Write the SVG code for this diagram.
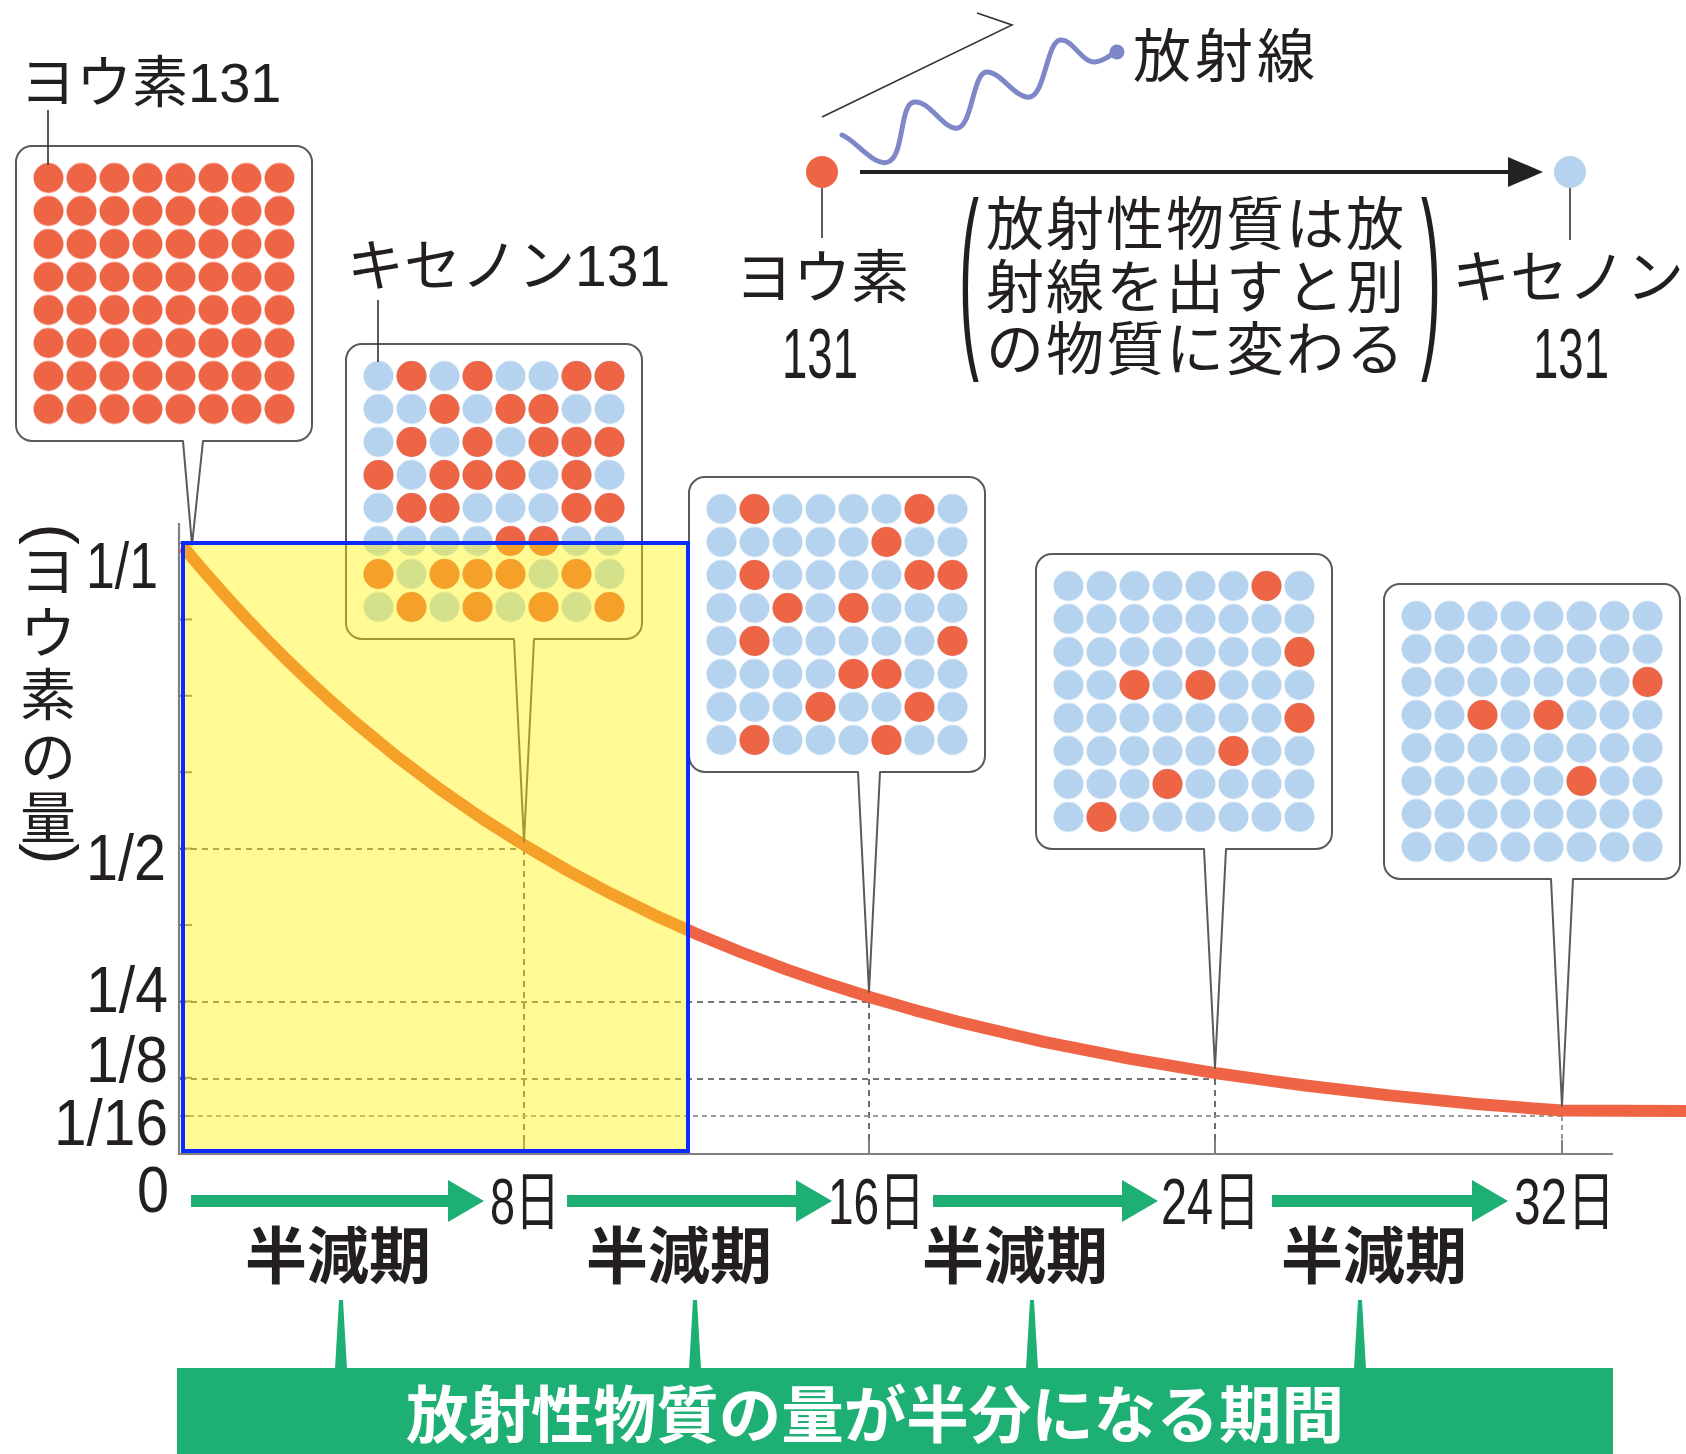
<svg xmlns="http://www.w3.org/2000/svg" width="1686" height="1454" viewBox="0 0 1686 1454">
<style>
.t{font-family:"Liberation Sans","Noto Sans CJK JP",sans-serif;fill:#231f20}
.j{font-family:"Noto Sans CJK JP",sans-serif;fill:#231f20}
.jb{font-family:"Noto Sans CJK JP",sans-serif;font-weight:700;fill:#231f20}
.box{fill:#fff;stroke:#5a5a5a;stroke-width:2;stroke-linejoin:round}
.r{fill:#EE6546}
.lead{stroke:#333;stroke-width:1.6;fill:none}
.grid{stroke:#4a4a4a;stroke-width:1.6;stroke-dasharray:6 5;fill:none}
.grid2{stroke:#9a9a9a;stroke-width:2;stroke-dasharray:5 4;fill:none}
.axis{stroke:#808080;stroke-width:2.2;fill:none}
.g{fill:#1DAF73}
.gl{stroke:#1DAF73;stroke-width:12;fill:none}
</style>
<defs>
<pattern id="pb" width="33" height="33" patternUnits="userSpaceOnUse"><circle cx="16.5" cy="16.5" r="15" fill="#B5D3EE"/></pattern>
<pattern id="pr" width="33" height="33" patternUnits="userSpaceOnUse"><circle cx="16.5" cy="16.5" r="15" fill="#EE6546"/></pattern>
</defs>
<rect width="1686" height="1454" fill="#fff"/>

<!-- axes and grid -->
<g id="axes">
<line class="axis" x1="179" y1="523" x2="179" y2="1155"/>
<line class="axis" x1="178" y1="1154" x2="1613" y2="1154"/>
<g stroke="#808080" stroke-width="2">
<line x1="179" y1="543" x2="192" y2="543"/>
<line x1="179" y1="619.4" x2="192" y2="619.4"/>
<line x1="179" y1="695.8" x2="192" y2="695.8"/>
<line x1="179" y1="772.2" x2="192" y2="772.2"/>
<line x1="179" y1="848.6" x2="192" y2="848.6"/>
<line x1="179" y1="925" x2="192" y2="925"/>
<line x1="179" y1="1001.4" x2="192" y2="1001.4"/>
<line x1="179" y1="1077.8" x2="192" y2="1077.8"/>
<line x1="179" y1="1116" x2="192" y2="1116"/>
<line x1="524" y1="1140" x2="524" y2="1154"/>
<line x1="869" y1="1140" x2="869" y2="1154"/>
<line x1="1215" y1="1140" x2="1215" y2="1154"/>
<line x1="1562" y1="1140" x2="1562" y2="1154"/>
</g>
<path class="grid" d="M180,849 H524 M524,849 V1140 M180,1002 H869 M869,1002 V1140 M180,1079 H1215 M1215,1079 V1140"/>
<path class="grid2" d="M180,1116 H1562 M1562,1116 V1140"/>
</g>

<!-- decay curve -->
<path id="curve" fill="none" stroke="#EE6445" stroke-width="12" stroke-linejoin="round" d="M183,546.7 L201.6,568.7 L223.2,593.3 L244.8,616.9 L266.4,639.4 L288,661 L309.6,681.7 L331.2,701.5 L352.8,720.5 L396,756.1 L439.2,788.7 L482.4,818.6 L525.6,846 L568.8,871.2 L612,894.2 L655.2,915.4 L698.4,934.7 L741.6,952.5 L784.8,968.8 L828,983.8 L871.2,997.5 L914.4,1010.1 L957.6,1021.6 L1044,1041.9 L1130.4,1058.9 L1216.8,1073.3 L1303.2,1085.3 L1389.6,1095.4 L1476,1104 L1562.4,1110.6 L1686,1111"/>

<!-- callouts -->
<g id="box1">
<path class="box" d="M32,146 H296 A16,16 0 0 1 312,162 V425 A16,16 0 0 1 296,441 H203 L192,545 L183,441 H32 A16,16 0 0 1 16,425 V162 A16,16 0 0 1 32,146 Z"/>
<g transform="translate(32,161.5)"><rect width="264" height="264" fill="url(#pr)"/></g>
</g>
<g id="box2">
<path class="box" d="M362,344 H626 A16,16 0 0 1 642,360 V623 A16,16 0 0 1 626,639 H534 L524,842 L514,639 H362 A16,16 0 0 1 346,623 V360 A16,16 0 0 1 362,344 Z"/>
<g transform="translate(362,359.5)"><rect width="264" height="264" fill="url(#pb)"/>
<circle class="r" r="15" cx="49.5" cy="16.5"/><circle class="r" r="15" cx="115.5" cy="16.5"/><circle class="r" r="15" cx="214.5" cy="16.5"/><circle class="r" r="15" cx="247.5" cy="16.5"/>
<circle class="r" r="15" cx="82.5" cy="49.5"/><circle class="r" r="15" cx="148.5" cy="49.5"/><circle class="r" r="15" cx="181.5" cy="49.5"/>
<circle class="r" r="15" cx="49.5" cy="82.5"/><circle class="r" r="15" cx="115.5" cy="82.5"/><circle class="r" r="15" cx="181.5" cy="82.5"/><circle class="r" r="15" cx="214.5" cy="82.5"/><circle class="r" r="15" cx="247.5" cy="82.5"/>
<circle class="r" r="15" cx="16.5" cy="115.5"/><circle class="r" r="15" cx="82.5" cy="115.5"/><circle class="r" r="15" cx="115.5" cy="115.5"/><circle class="r" r="15" cx="148.5" cy="115.5"/><circle class="r" r="15" cx="214.5" cy="115.5"/>
<circle class="r" r="15" cx="49.5" cy="148.5"/><circle class="r" r="15" cx="82.5" cy="148.5"/><circle class="r" r="15" cx="214.5" cy="148.5"/><circle class="r" r="15" cx="247.5" cy="148.5"/>
<circle class="r" r="15" cx="148.5" cy="181.5"/><circle class="r" r="15" cx="181.5" cy="181.5"/>
<circle class="r" r="15" cx="16.5" cy="214.5"/><circle class="r" r="15" cx="82.5" cy="214.5"/><circle class="r" r="15" cx="115.5" cy="214.5"/><circle class="r" r="15" cx="148.5" cy="214.5"/><circle class="r" r="15" cx="214.5" cy="214.5"/>
<circle class="r" r="15" cx="49.5" cy="247.5"/><circle class="r" r="15" cx="115.5" cy="247.5"/><circle class="r" r="15" cx="181.5" cy="247.5"/><circle class="r" r="15" cx="247.5" cy="247.5"/>
</g>
</g>
<g id="box3">
<path class="box" d="M705,477 H969 A16,16 0 0 1 985,493 V756 A16,16 0 0 1 969,772 H880 L869,992 L858,772 H705 A16,16 0 0 1 689,756 V493 A16,16 0 0 1 705,477 Z"/>
<g transform="translate(705,492.5)"><rect width="264" height="264" fill="url(#pb)"/>
<circle class="r" r="15" cx="49.5" cy="16.5"/><circle class="r" r="15" cx="214.5" cy="16.5"/>
<circle class="r" r="15" cx="181.5" cy="49.5"/>
<circle class="r" r="15" cx="49.5" cy="82.5"/><circle class="r" r="15" cx="214.5" cy="82.5"/><circle class="r" r="15" cx="247.5" cy="82.5"/>
<circle class="r" r="15" cx="82.5" cy="115.5"/><circle class="r" r="15" cx="148.5" cy="115.5"/>
<circle class="r" r="15" cx="49.5" cy="148.5"/><circle class="r" r="15" cx="247.5" cy="148.5"/>
<circle class="r" r="15" cx="148.5" cy="181.5"/><circle class="r" r="15" cx="181.5" cy="181.5"/>
<circle class="r" r="15" cx="115.5" cy="214.5"/><circle class="r" r="15" cx="214.5" cy="214.5"/>
<circle class="r" r="15" cx="49.5" cy="247.5"/><circle class="r" r="15" cx="181.5" cy="247.5"/>
</g>
</g>
<g id="box4">
<path class="box" d="M1052,554 H1316 A16,16 0 0 1 1332,570 V833 A16,16 0 0 1 1316,849 H1226 L1215,1068 L1204,849 H1052 A16,16 0 0 1 1036,833 V570 A16,16 0 0 1 1052,554 Z"/>
<g transform="translate(1052,569.5)"><rect width="264" height="264" fill="url(#pb)"/>
<circle class="r" r="15" cx="214.5" cy="16.5"/>
<circle class="r" r="15" cx="247.5" cy="82.5"/>
<circle class="r" r="15" cx="82.5" cy="115.5"/><circle class="r" r="15" cx="148.5" cy="115.5"/>
<circle class="r" r="15" cx="247.5" cy="148.5"/>
<circle class="r" r="15" cx="181.5" cy="181.5"/>
<circle class="r" r="15" cx="115.5" cy="214.5"/>
<circle class="r" r="15" cx="49.5" cy="247.5"/>
</g>
</g>
<g id="box5">
<path class="box" d="M1400,584 H1664 A16,16 0 0 1 1680,600 V863 A16,16 0 0 1 1664,879 H1573 L1562,1106 L1551,879 H1400 A16,16 0 0 1 1384,863 V600 A16,16 0 0 1 1400,584 Z"/>
<g transform="translate(1400,599.5)"><rect width="264" height="264" fill="url(#pb)"/>
<circle class="r" r="15" cx="247.5" cy="82.5"/>
<circle class="r" r="15" cx="82.5" cy="115.5"/><circle class="r" r="15" cx="148.5" cy="115.5"/>
<circle class="r" r="15" cx="181.5" cy="181.5"/>
</g>
</g>

<!-- highlight overlay -->
<g id="highlight">
<rect x="183" y="543" width="505" height="608" fill="#FFF200" fill-opacity="0.42"/>
<rect x="183" y="543" width="505" height="608" fill="none" stroke="#0A2AFF" stroke-width="4"/>
</g>

<!-- labels -->
<g id="label-iodine131"><text class="t" x="20" y="102" font-size="56">ヨウ素131</text></g>
<g id="label-xenon131"><text class="t" x="347" y="286" font-size="57">キセノン131</text></g>

<!-- decay explanation -->
<g id="iodine-atom"><circle cx="822" cy="172" r="16" fill="#EE6546"/>
<text class="j" x="822" y="298" font-size="58" text-anchor="middle">ヨウ素</text>
<text class="t" x="782" y="378" font-size="70" textLength="76" lengthAdjust="spacingAndGlyphs">131</text></g>
<g id="xenon-atom"><circle cx="1570" cy="172" r="16" fill="#B5D3EE"/>
<text class="j" x="1452" y="298" font-size="58">キセノン</text>
<text class="t" x="1533" y="378" font-size="70" textLength="76" lengthAdjust="spacingAndGlyphs">131</text></g>
<g id="radiation">
<path d="M842,135 C856,140 876,170 890,161 C904,152 900,104 914,102 C930,100 944,131 958,128 C972,125 973,74 986,72 C1000,70 1016,100 1030,97 C1045,94 1047,42 1060,40 C1072,38 1082,63 1095,62 C1104,61 1110,55 1116,52" fill="none" stroke="#7E87C7" stroke-width="5" stroke-linecap="round"/>
<circle cx="1117" cy="52" r="7.5" fill="#7E87C7"/>
<path d="M822,117 L1012,25 L977,13" fill="none" stroke="#333" stroke-width="1.6"/>
<text class="j" x="1133" y="77" font-size="58" letter-spacing="4">放射線</text>
</g>
<g id="explanation">
<text class="t" transform="translate(959,341) scale(1,3.3)" font-size="60" fill="#333">(</text>
<text class="t" transform="translate(1421,341) scale(1,3.3)" font-size="60" fill="#333">)</text>
<text class="j" font-size="58" letter-spacing="2"><tspan x="986" y="245">放射性物質は放</tspan><tspan x="986" y="308">射線を出すと別</tspan><tspan x="986" y="370">の物質に変わる</tspan></text>
</g>

<!-- y axis -->
<g id="y-title">
<text class="t" transform="translate(31.6,523.5) rotate(90)" font-size="64">(</text>
<text class="j" font-size="56" text-anchor="middle"><tspan x="48" y="591">ヨ</tspan><tspan x="48" y="653">ウ</tspan><tspan x="48" y="715">素</tspan><tspan x="48" y="777">の</tspan><tspan x="48" y="838">量</tspan></text>
<text class="t" transform="translate(31.6,843) rotate(90)" font-size="64">)</text>
</g>
<g id="y-labels">
<text class="t" x="86" y="588" font-size="64" textLength="72" lengthAdjust="spacingAndGlyphs">1/1</text>
<text class="t" x="86" y="880" font-size="64" textLength="80" lengthAdjust="spacingAndGlyphs">1/2</text>
<text class="t" x="86" y="1012" font-size="64" textLength="82" lengthAdjust="spacingAndGlyphs">1/4</text>
<text class="t" x="86" y="1082" font-size="64" textLength="82" lengthAdjust="spacingAndGlyphs">1/8</text>
<text class="t" x="54" y="1145" font-size="64" textLength="114" lengthAdjust="spacingAndGlyphs">1/16</text>
<text class="t" x="137" y="1212" font-size="64" textLength="32" lengthAdjust="spacingAndGlyphs">0</text>
</g>
<g id="x-labels">
<text class="t" x="490" y="1224" font-size="64" textLength="70" lengthAdjust="spacingAndGlyphs">8日</text>
<text class="t" x="828" y="1224" font-size="64" textLength="97" lengthAdjust="spacingAndGlyphs">16日</text>
<text class="t" x="1161" y="1224" font-size="64" textLength="99" lengthAdjust="spacingAndGlyphs">24日</text>
<text class="t" x="1514" y="1224" font-size="64" textLength="101" lengthAdjust="spacingAndGlyphs">32日</text>
</g>
<g id="half-life-labels">
<text class="jb" x="338" y="1279" font-size="62" text-anchor="middle">半減期</text>
<text class="jb" x="679" y="1279" font-size="62" text-anchor="middle">半減期</text>
<text class="jb" x="1015" y="1279" font-size="62" text-anchor="middle">半減期</text>
<text class="jb" x="1374" y="1279" font-size="62" text-anchor="middle">半減期</text>
</g>
<g id="definition-bar">
<rect class="g" x="177" y="1368" width="1436" height="86"/>
<text x="875" y="1438" font-size="62" text-anchor="middle" textLength="938" lengthAdjust="spacingAndGlyphs" style="font-family:'Noto Sans CJK JP',sans-serif;font-weight:700;fill:#fff">放射性物質の量が半分になる期間</text>
</g>

<g id="connectors">
<line class="lead" x1="48" y1="110" x2="48" y2="165"/>
<line class="lead" x1="378" y1="300" x2="378" y2="362"/>
<line class="lead" x1="822" y1="188" x2="822" y2="238"/>
<line class="lead" x1="1570" y1="188" x2="1570" y2="240"/>
<line x1="860" y1="172" x2="1515" y2="172" stroke="#222" stroke-width="4"/>
<polygon points="1508,157 1543,172 1508,187" fill="#222"/>
<line class="gl" x1="191" y1="1201" x2="452" y2="1201"/>
<polygon class="g" points="448,1180 484,1201 448,1222"/>
<line class="gl" x1="567" y1="1201" x2="800" y2="1201"/>
<polygon class="g" points="796,1180 832,1201 796,1222"/>
<line class="gl" x1="933" y1="1201" x2="1126" y2="1201"/>
<polygon class="g" points="1122,1180 1158,1201 1122,1222"/>
<line class="gl" x1="1272" y1="1201" x2="1476" y2="1201"/>
<polygon class="g" points="1472,1180 1508,1201 1472,1222"/>
<polygon class="g" points="339,1300 343,1300 347,1369 335,1369"/>
<polygon class="g" points="693,1300 697,1300 701,1369 689,1369"/>
<polygon class="g" points="1030,1300 1034,1300 1038,1369 1026,1369"/>
<polygon class="g" points="1358,1300 1362,1300 1366,1369 1354,1369"/>
</g>
</svg>
